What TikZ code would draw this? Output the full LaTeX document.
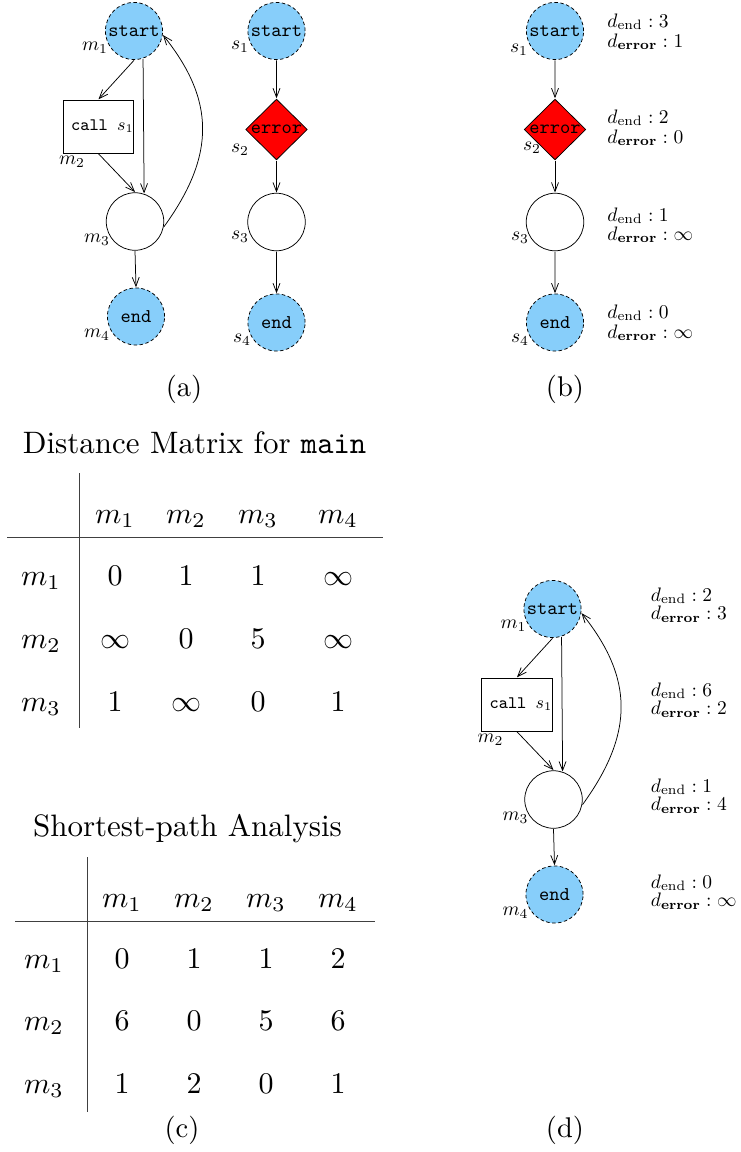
\documentclass[tikz,border=0pt]{standalone}
\usetikzlibrary{shapes.geometric,arrows.meta}
\definecolor{termblue}{RGB}{135,206,250}
\definecolor{errred}{RGB}{255,0,0}
\tikzset{
  gscale/.style={scale=1.95},
  termnode/.style={circle, draw, dash pattern=on 3.5pt off 2.5pt, fill=termblue,
    minimum size=29.3pt, inner sep=0pt, gscale, font=\ttfamily, line width=0.75pt},
  plainnode/.style={circle, draw, minimum size=29.5pt, inner sep=0pt, gscale, line width=0.75pt},
  callbox/.style={rectangle, draw, minimum width=34.4pt, minimum height=27.2pt,
    inner sep=0pt, gscale, font=\ttfamily\small, line width=0.75pt},
  errnode/.style={diamond, draw, fill=errred, aspect=1, minimum width=31.8pt,
    minimum height=31.3pt, inner sep=0pt, gscale, font=\ttfamily, line width=0.75pt},
  glabel/.style={gscale, inner sep=0pt},
  dlabel/.style={gscale, inner sep=0pt, anchor=base west},
  edge/.style={-{Straight Barb[length=9pt,width=7pt]}, line width=0.75pt},
  cell/.style={scale=3.0, inner sep=0pt, anchor=base},
  title/.style={scale=3.1, inner sep=0pt, anchor=base},
  caption/.style={scale=2.85, inner sep=0pt, anchor=base},
  rule/.style={line width=0.9pt, black!75},
}
% control-flow graph of main: start, call s1, join node, end
\newcommand{\callgraph}{%
  \node[termnode] (m1) at (134,31) {start};
  \node[callbox] (m2) at (98.5,126.5) {\hspace{4pt}call $s_1$};
  \node[plainnode] (m3) at (135,221.5) {};
  \node[termnode] (m4) at (136,316.5) {end};
  \node[glabel] (m1l) at (95,48) {$m_1$};
  \node[glabel] (m2l) at (72,162) {$m_2$};
  \node[glabel] (m3l) at (97,240) {$m_3$};
  \node[glabel] (m4l) at (97,335) {$m_4$};
  \draw[edge] (m1.south) -- (m2.north);
  \draw[edge] (m1.-72) -- (m3.72);
  \draw[edge] (m2.south) -- (m3.north);
  \draw[edge] (m3.south) -- (m4.north);
  \draw[edge] (m3.-10) .. controls (216,155) and (215,100) .. (m1.-8);
}
% control-flow graph of s1: start, error, plain node, end
\newcommand{\subgraph}[1]{%
  \node[termnode] (s1) at (#1,31) {start};
  \node[errnode] (s2) at (#1,129.5) {\makebox[0pt]{error}};
  \node[plainnode] (s3) at (#1,222) {};
  \node[termnode] (s4) at (#1,322.5) {end};
  \draw[edge] (s1) -- (s2);
  \draw[edge] (s2) -- (s3);
  \draw[edge] (s3) -- (s4);
}
\begin{document}
\begin{tikzpicture}[x=1pt,y=-1pt]
\useasboundingbox[fill=white] (0,0) rectangle (741,1152);

% (a) main and s1
\begin{scope}[name prefix=a-]
  \callgraph
  \subgraph{276.5}
  \node[glabel] (s1l) at (240,47) {$s_1$};
  \node[glabel] (s2l) at (240,150) {$s_2$};
  \node[glabel] (s3l) at (240,237) {$s_3$};
  \node[glabel] (s4l) at (242,340) {$s_4$};
\end{scope}
\node[caption] (capa) at (184,396) {(a)};

% (b) distances inside s1
\begin{scope}[name prefix=b-]
  \subgraph{555}
  \node[glabel] (s1l) at (519,50) {$s_1$};
  \node[glabel] (s2l) at (532,148) {$s_2$};
  \node[glabel] (s3l) at (520,238) {$s_3$};
  \node[glabel] (s4l) at (520,340) {$s_4$};
  \foreach \y/\v [count=\i] in {27/3,123/2,221/1,318/0}
    \node[dlabel] (de\i) at (607,\y) {$d_{\mathrm{end}}:\v$};
  \foreach \y/\v [count=\i] in {47/1,143/0,240/\infty,338/\infty}
    \node[dlabel] (dr\i) at (607,\y) {$d_{\mathbf{error}}:\v$};
\end{scope}
\node[caption] (capb) at (565,396) {(b)};

% (c) distance matrix
\node[title] (t1title) at (194.5,453) {Distance Matrix for \texttt{main}};
\draw[rule] (79,473) -- (79,728);
\draw[rule] (7,537) -- (383,537);
\foreach \x/\lab [count=\c] in {115/m_1,186/m_2,258/m_3,338/m_4}
  \node[cell] (t1h\c) at (\x,523) {$\lab$};
\foreach \y/\lab [count=\r] in {585/m_1,648/m_2,711/m_3}
  \node[cell] (t1r\r) at (41,\y) {$\lab$};
\foreach \x/\y/\v [count=\k] in {115/585/0,186/585/1,258/585/1,338/585/\infty,
    115/648/\infty,186/648/0,258/648/5,338/648/\infty,
    115/711/1,186/711/\infty,258/711/0,338/711/1}
  \node[cell] (t1v\k) at (\x,\y) {$\v$};

% (c) shortest-path analysis
\node[title] (t2title) at (187.5,836) {Shortest-path Analysis};
\draw[rule] (87,857) -- (87,1112);
\draw[rule] (15,921) -- (375,921);
\foreach \x/\lab [count=\c] in {122/m_1,194/m_2,266/m_3,338/m_4}
  \node[cell] (t2h\c) at (\x,907) {$\lab$};
\foreach \y/\lab [count=\r] in {968/m_1,1030/m_2,1093/m_3}
  \node[cell] (t2r\r) at (44,\y) {$\lab$};
\foreach \x/\y/\v [count=\k] in {122/968/0,194/968/1,266/968/1,338/968/2,
    122/1030/6,194/1030/0,266/1030/5,338/1030/6,
    122/1093/1,194/1093/2,266/1093/0,338/1093/1}
  \node[cell] (t2v\k) at (\x,\y) {$\v$};
\node[caption] (capc) at (182,1137) {(c)};

% (d) distances inside main
\begin{scope}[shift={(418.5,578)}, name prefix=d-]
  \callgraph
\end{scope}
\foreach \y/\v [count=\i] in {601/2,696/6,792/1,888/0}
  \node[dlabel] (d-de\i) at (650.5,\y) {$d_{\mathrm{end}}:\v$};
\foreach \y/\v [count=\i] in {619.5/3,714.5/2,810.5/4,906.5/\infty}
  \node[dlabel] (d-dr\i) at (650.5,\y) {$d_{\mathbf{error}}:\v$};
\node[caption] (capd) at (565,1137) {(d)};
\end{tikzpicture}
\end{document}
